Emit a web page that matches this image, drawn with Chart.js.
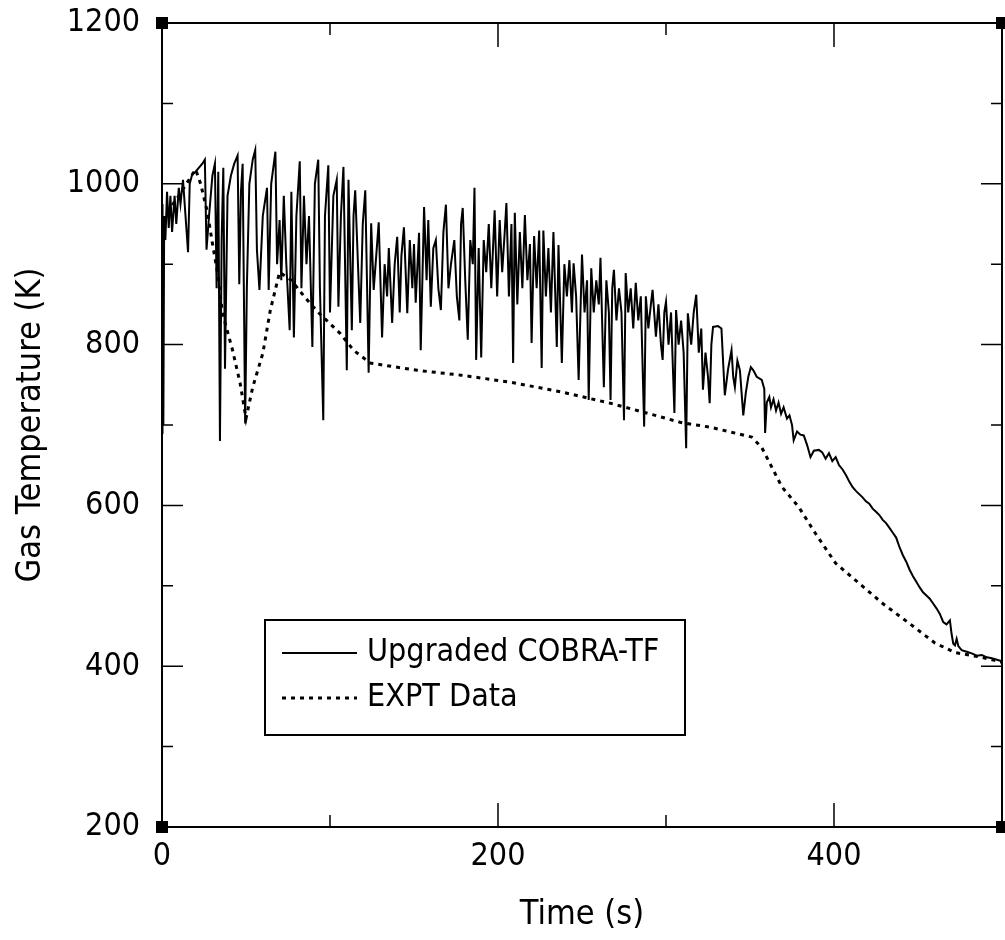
<!DOCTYPE html>
<html>
<head>
<meta charset="utf-8">
<title>Gas Temperature</title>
<script src="https://cdn.jsdelivr.net/npm/chart.js@4.4.1/dist/chart.umd.min.js"></script>
<style>
  html, body { margin: 0; padding: 0; background: #fff; }
  #chart { display: block; }
</style>
</head>
<body>
<canvas id="chart" width="1005" height="940"></canvas>
<script>
// Valores (tempo em s, temperatura em K)
const cobraTime = [
  0, 0.3, 0.8, 1.3, 2, 3, 4, 5, 6, 7.5,
  8.5, 10, 11, 12.5, 14, 15.5, 16.5, 18, 20, 22,
  24, 25.5, 26.5, 28, 30, 31.5, 32.5, 33.5, 34.5, 35.5,
  36.5, 37.5, 39, 41, 43, 45, 46, 47, 48, 49.5,
  50.5, 52, 54, 55.5, 56.5, 58, 60, 62.5, 63.5, 65,
  67.5, 68.5, 70, 71, 72.5, 74, 76, 77, 78.5, 80,
  82, 83, 84.5, 86, 87.5, 89.5, 91, 93, 94, 96,
  97, 99, 100, 102, 104, 105, 106.5, 108, 110, 111,
  113, 114, 115, 117, 118, 119.5, 121, 122, 123, 124.5,
  126, 127.5, 129, 131, 132.5, 134, 135, 137, 138.5, 140,
  141.5, 142.5, 144, 146, 147.5, 149, 150, 151, 153, 154,
  156, 157.5, 158.5, 160, 161.5, 163, 164.5, 166, 167.5, 169,
  170.5, 172, 174, 175.5, 177, 178, 179, 180.5, 182, 183.5,
  185, 186, 187, 188.5, 190, 191.5, 193, 194.5, 196, 198,
  199.5, 201, 202.5, 204, 205, 206.5, 208, 209, 210, 211.5,
  213, 214.5, 216, 217.5, 219, 220, 221.5, 223, 224.5, 226,
  227, 228.5, 230, 231.5, 233, 235, 236, 237, 238, 239.5,
  241, 242.5, 244, 245, 246.5, 248, 250, 251.5, 253, 254,
  255.5, 257, 258.5, 260, 261, 263, 264.5, 266, 267, 268,
  269, 270.5, 272, 273.5, 275, 276, 277.5, 279, 280.5, 282,
  283.5, 285, 287, 288, 289.5, 291, 292, 294, 295.5, 297,
  298, 299, 300, 301.5, 303, 305, 306, 307.5, 309, 310.5,
  312, 313, 315, 316.5, 318, 319.5, 321, 322, 323.5, 325,
  326, 327, 328, 331, 333, 335, 337, 339, 340, 341,
  342.5, 344, 345, 346, 347.5, 349, 350.5, 352, 354, 357,
  358.5, 359, 360, 361.5, 362.5, 364, 365.5, 367, 368.5, 370,
  372, 373.5, 375, 376, 378, 380, 382, 384, 386, 388,
  391, 393, 395, 397, 399, 401, 403, 405, 407, 409,
  411, 413, 415, 417, 419, 421, 423, 425, 427, 429,
  431, 433, 435, 437, 439, 441, 443, 445, 447, 449,
  451, 453, 455, 457, 459, 461, 463, 465, 467, 469,
  470, 471, 472, 473, 474, 476, 479, 482, 485, 488,
  491, 494, 497, 500
];
const cobraTemp = [
  690, 975, 700, 960, 930, 990, 945, 985, 940, 985,
  950, 995, 975, 1005, 960, 915, 1000, 1012, 1015, 1020,
  1025, 1030, 918, 960, 1010, 1025, 870, 1015, 680, 930,
  1020, 770, 985, 1010, 1025, 1035, 875, 990, 1025, 702,
  870, 1000, 1030, 1042, 918, 868, 960, 995, 868, 1000,
  1040, 900, 955, 880, 985, 900, 818, 990, 809, 960,
  1028, 870, 985, 900, 960, 797, 1000, 1030, 870, 706,
  960, 1023, 840, 985, 1005, 847, 960, 1021, 768, 1005,
  818, 960, 992, 880, 827, 950, 992, 880, 765, 951,
  868, 910, 952, 809, 900, 860, 920, 827, 900, 934,
  840, 910, 946, 839, 930, 870, 925, 852, 939, 793,
  971, 880, 955, 847, 920, 930, 870, 843, 940, 974,
  870, 900, 930, 860, 830, 950, 970, 880, 806, 930,
  900, 995, 781, 920, 784, 930, 890, 950, 870, 967,
  860, 955, 890, 940, 976, 860, 950, 777, 964, 850,
  940, 870, 961, 880, 925, 802, 935, 870, 942, 771,
  942, 860, 920, 840, 940, 797, 924, 850, 777, 900,
  860, 905, 840, 901, 860, 756, 912, 840, 880, 731,
  895, 840, 880, 850, 908, 747, 880, 840, 731, 870,
  893, 830, 870, 840, 706, 889, 840, 870, 820, 877,
  830, 860, 698, 860, 820, 850, 868, 810, 850, 800,
  781, 840, 853, 800, 840, 715, 843, 800, 830, 790,
  671, 839, 800, 840, 862, 790, 820, 744, 790, 760,
  727, 800, 822, 823, 820, 737, 770, 793, 760, 747,
  780, 768, 740, 712, 740, 760, 772, 768, 760, 756,
  745, 690, 728, 735, 722, 732, 718, 728, 714, 722,
  708, 712, 700, 681, 692, 688, 687, 675, 660, 668,
  669, 666, 658, 665, 655, 660, 650, 645, 638, 630,
  623, 618, 614, 610, 605, 602, 596, 592, 588, 582,
  578, 572, 566, 560, 548, 538, 530, 520, 512, 505,
  498, 492, 488, 484, 478, 472, 465, 455, 452, 457,
  440, 428, 426, 434, 425, 420, 418, 416, 413, 414,
  411, 410, 408, 406
];

const exptTime = [
  0, 10, 20, 23, 27, 30, 33, 36, 42, 46.5,
  50, 54, 60, 64.5, 70, 77, 85, 93, 100, 106,
  114, 124, 152, 178, 208, 238, 267, 297, 309, 327,
  351, 357, 369, 379, 389, 401, 415, 429, 445, 460,
  472, 488, 500
];
const exptTemp = [
  955, 985, 1018, 1000, 965, 926, 890, 839, 793, 752,
  708, 747, 789, 843, 890, 880, 859, 840, 826, 814,
  793, 777, 768, 762, 753, 741, 727, 710, 703, 697,
  685, 672, 623, 598, 565, 528, 503, 478, 453, 429,
  417, 411, 405
];

const seriesNames = ['Upgraded COBRA-TF', 'EXPT Data'];
const xTicks = [0, 100, 200, 300, 400, 500];
const yTicks = [200, 300, 400, 500, 600, 700, 800, 900, 1000, 1100, 1200];

const FONT = "'Liberation Sans Narrow', 'DejaVu Sans Condensed', 'Liberation Sans', sans-serif";

const toPoints = (xs, ys) => xs.map((t, i) => ({ x: t, y: ys[i] }));

// Moldura com marcas de escala para dentro e quadradinhos nos cantos
const frameTicks = {
  id: 'frameTicks',
  afterDatasetsDraw(chart) {
    const { ctx, chartArea: a, scales: { x, y } } = chart;
    ctx.save();
    ctx.strokeStyle = '#000';
    ctx.lineWidth = 2;
    ctx.setLineDash([]);
    ctx.strokeRect(a.left, a.top, a.right - a.left, a.bottom - a.top);

    ctx.lineWidth = 1.5;
    ctx.beginPath();
    xTicks.forEach(v => {
      const px = x.getPixelForValue(v);
      const len = v % 200 === 0 ? 24 : 12;
      ctx.moveTo(px, a.bottom); ctx.lineTo(px, a.bottom - len);
      ctx.moveTo(px, a.top); ctx.lineTo(px, a.top + len);
    });
    yTicks.forEach(v => {
      const py = y.getPixelForValue(v);
      const len = v % 200 === 0 ? 21 : 11;
      ctx.moveTo(a.left, py); ctx.lineTo(a.left + len, py);
      ctx.moveTo(a.right, py); ctx.lineTo(a.right - len, py);
    });
    ctx.stroke();

    // cantos
    ctx.fillStyle = '#000';
    [[a.left, a.top], [a.left, a.bottom], [a.right, a.top], [a.right, a.bottom]].forEach(([cx, cy]) => {
      ctx.fillRect(cx - 6, cy - 6, 12, 12);
    });
    ctx.restore();
  }
};

// Legenda em caixa dentro da área do gráfico
const boxLegend = {
  id: 'boxLegend',
  afterDraw(chart) {
    const { ctx, chartArea: a } = chart;
    const bx = a.left + 103, by = a.top + 597, bw = 420, bh = 115;
    ctx.save();
    ctx.fillStyle = '#fff';
    ctx.fillRect(bx, by, bw, bh);
    ctx.strokeStyle = '#000';
    ctx.lineWidth = 2;
    ctx.strokeRect(bx, by, bw, bh);
    chart.data.datasets.forEach((ds, i) => {
      const ly = by + 33 + i * 45;
      ctx.setLineDash(ds.borderDash || []);
      ctx.lineWidth = ds.borderWidth;
      ctx.strokeStyle = ds.borderColor;
      ctx.beginPath();
      ctx.moveTo(bx + 17, ly);
      ctx.lineTo(bx + 92, ly);
      ctx.stroke();
      ctx.setLineDash([]);
      ctx.fillStyle = '#000';
      ctx.font = '32px ' + FONT;
      ctx.textBaseline = 'middle';
      ctx.textAlign = 'left';
      ctx.fillText(ds.label, bx + 102, ly);
    });
    ctx.restore();
  }
};

const whiteBg = {
  id: 'whiteBg',
  beforeDraw(chart) {
    const { ctx, width, height } = chart;
    ctx.save();
    ctx.fillStyle = '#fff';
    ctx.fillRect(0, 0, width, height);
    ctx.restore();
  }
};

const config = {
  type: 'line',
  data: {
    datasets: [{
      label: seriesNames[0],
      data: toPoints(cobraTime, cobraTemp),
      borderColor: '#000',
      borderWidth: 2,
      pointRadius: 0,
      tension: 0,
      fill: false
    }, {
      label: seriesNames[1],
      data: toPoints(exptTime, exptTemp),
      borderColor: '#000',
      borderWidth: 3,
      borderDash: [4, 5],
      pointRadius: 0,
      tension: 0,
      fill: false
    }]
  },
  options: {
    responsive: false,
    animation: false,
    devicePixelRatio: 1,
    layout: { autoPadding: false, padding: { top: 23, right: 3, left: 0, bottom: 0 } },
    plugins: {
      legend: { display: false },
      tooltip: { enabled: false }
    },
    scales: {
      x: {
        type: 'linear',
        min: 0,
        max: 500,
        grid: { display: false, drawTicks: false },
        border: { display: false },
        ticks: {
          stepSize: 200,
          includeBounds: false,
          maxRotation: 0,
          autoSkip: false,
          padding: 10,
          color: '#000',
          font: { family: FONT, size: 32 },
          callback: v => String(v)
        },
        title: {
          display: true,
          text: 'Time (s)',
          color: '#000',
          font: { family: FONT, size: 34 },
          padding: { top: 0, bottom: 4 }
        },
        afterFit(scale) { scale.height = 113; }
      },
      y: {
        type: 'linear',
        min: 200,
        max: 1200,
        grid: { display: false, drawTicks: false },
        border: { display: false },
        ticks: {
          stepSize: 200,
          padding: 22,
          color: '#000',
          font: { family: FONT, size: 32, lineHeight: 0.05 },
          callback: v => String(v)
        },
        title: {
          display: true,
          text: 'Gas Temperature (K)',
          color: '#000',
          font: { family: FONT, size: 34 },
          padding: { top: 11, bottom: 0 }
        },
        afterFit(scale) { scale.width = 162; }
      }
    }
  },
  plugins: [whiteBg, frameTicks, boxLegend]
};

const ctx = document.getElementById('chart').getContext('2d');
new Chart(ctx, config);
</script>
</body>
</html>
